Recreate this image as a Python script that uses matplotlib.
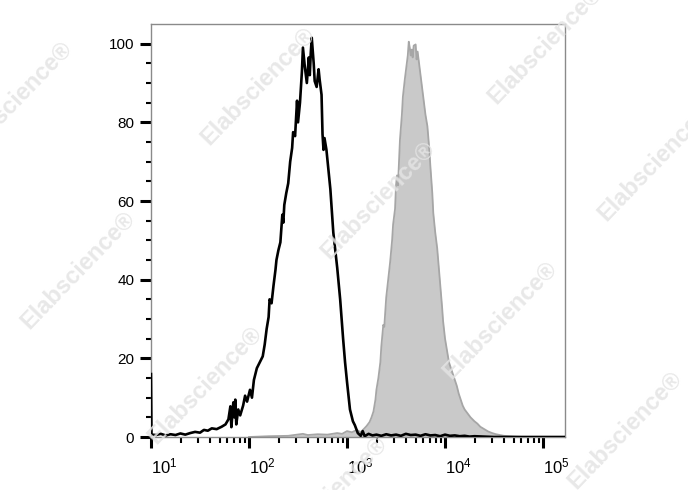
import numpy as np
import matplotlib
matplotlib.use("Agg")
import matplotlib.pyplot as plt
from matplotlib.ticker import FixedLocator, LogLocator, NullFormatter

plt.rcParams['font.family'] = ['Liberation Sans', 'DejaVu Sans']
plt.rcParams['mathtext.fontset'] = 'custom'
plt.rcParams['mathtext.rm'] = 'Liberation Sans'
plt.rcParams['mathtext.it'] = 'Liberation Sans'

# Unstained / isotype control (black line), x given as decades (log10)
black_log = [1.00, 1.005, 1.05, 1.10, 1.15, 1.20, 1.25, 1.30, 1.35, 1.40, 1.45, 1.50,
             1.54, 1.58, 1.62, 1.67, 1.72, 1.76, 1.79, 1.81, 1.82, 1.84, 1.85, 1.86,
             1.87, 1.89, 1.91, 1.94, 1.96, 1.98, 2.01, 2.03, 2.05, 2.08, 2.11, 2.14,
             2.16, 2.18, 2.20, 2.21, 2.23, 2.25, 2.27, 2.28, 2.30, 2.32, 2.34, 2.35,
             2.36, 2.38, 2.40, 2.42, 2.44, 2.45, 2.47, 2.49, 2.50, 2.52, 2.54, 2.55,
             2.57, 2.59, 2.61, 2.62, 2.63, 2.64, 2.66, 2.67, 2.69, 2.71, 2.72, 2.74,
             2.75, 2.76, 2.77, 2.79, 2.81, 2.83, 2.86, 2.90, 2.93, 2.96, 2.98, 3.00,
             3.03, 3.06, 3.08, 3.11, 3.14, 3.16, 3.18, 3.22, 3.26, 3.30, 3.35, 3.40,
             3.45, 3.50, 3.55, 3.60, 3.65, 3.70, 3.75, 3.80, 3.85, 3.90, 3.95, 4.00,
             4.05, 4.10, 4.15, 4.20, 4.25, 4.30, 4.50, 5.22]
black_y = [16.0, 0.6, 0.5, 0.8, 0.4, 0.7, 0.5, 0.9, 0.6, 1.0, 1.3, 1.1,
           1.8, 1.6, 2.2, 2.0, 2.6, 3.2, 4.5, 7.8, 2.5, 8.8, 5.0, 9.5,
           3.2, 7.0, 5.5, 8.0, 10.5, 9.0, 12.0, 10.0, 14.5, 17.5, 19.0, 20.5,
           23.5, 27.5, 30.5, 35.0, 34.0, 38.5, 42.5, 45.0, 47.5, 49.5, 56.5, 54.5,
           59.0, 62.0, 64.5, 70.0, 73.5, 77.5, 76.5, 85.5, 80.0, 85.0, 93.0, 99.0,
           94.0, 90.0, 96.5, 92.0, 97.5, 101.5, 95.0, 90.5, 89.0, 93.5, 91.0, 87.0,
           77.0, 73.0, 76.0, 73.0, 68.0, 63.0, 52.0, 43.0, 35.0, 25.0, 19.0, 14.0,
           7.0, 4.0, 3.0, 1.0, 0.3, 1.5, 0.2, 0.8, 0.4, 0.6, 0.3, 0.7,
           0.4, 0.6, 0.3, 0.8, 0.5, 0.6, 0.3, 0.7, 0.4, 0.5, 0.2, 0.6,
           0.3, 0.4, 0.2, 0.3, 0.1, 0.2, 0.0, 0.0]

# Stained sample (grey filled)
gray_log = [2.00, 2.20, 2.40, 2.55, 2.60, 2.70, 2.80, 2.90, 2.95, 3.00, 3.05, 3.10,
            3.14, 3.17, 3.20, 3.23, 3.25, 3.27, 3.29, 3.30, 3.32, 3.34, 3.35, 3.37,
            3.38, 3.40, 3.42, 3.44, 3.46, 3.47, 3.49, 3.50, 3.51, 3.52, 3.54, 3.56,
            3.57, 3.59, 3.61, 3.62, 3.63, 3.64, 3.65, 3.66, 3.67, 3.68, 3.70, 3.71,
            3.72, 3.74, 3.76, 3.78, 3.80, 3.82, 3.84, 3.85, 3.87, 3.88, 3.90, 3.92,
            3.94, 3.95, 3.97, 3.98, 4.00, 4.02, 4.04, 4.06, 4.08, 4.10, 4.12, 4.14,
            4.16, 4.18, 4.20, 4.23, 4.26, 4.30, 4.33, 4.36, 4.40, 4.44, 4.48, 4.52,
            4.56, 4.60, 4.66, 4.72, 4.80]
gray_y = [0.0, 0.2, 0.3, 0.8, 0.5, 0.7, 0.6, 1.0, 0.8, 1.5, 1.2, 1.8,
          1.2, 2.0, 2.8, 3.8, 5.0, 6.5, 9.5, 12.0, 15.0, 19.0, 23.0, 28.5,
          28.0, 35.5, 40.0, 44.5, 50.0, 54.0, 58.0, 64.0, 66.5, 64.0, 75.5, 82.0,
          86.5, 91.0, 95.0, 97.0, 100.5, 99.0, 97.0, 98.5, 96.5, 99.5, 99.8, 96.0,
          98.0, 94.0, 90.0, 86.0, 82.0, 79.0, 73.0, 69.0, 62.0, 57.0, 52.0, 48.0,
          42.0, 39.0, 33.0, 29.5, 25.0, 22.0, 19.0, 17.5, 16.0, 14.5, 13.0, 11.0,
          9.5, 8.0, 7.0, 6.0, 5.0, 4.0, 3.4, 2.6, 2.0, 1.4, 1.0, 0.7,
          0.5, 0.3, 0.2, 0.1, 0.0]

y_ticks = [0, 20, 40, 60, 80, 100]
x_ticks = [1e1, 1e2, 1e3, 1e4, 1e5]
x_labels = ['$10^{1}$', '$10^{2}$', '$10^{3}$', '$10^{4}$', '$10^{5}$']

watermark = "Elabscience\u00ae"
wm_pos = [(258, 86), (378, 200), (500, 320), (545, 45), (655, 162), (78, 270),
          (205, 385), (625, 430), (15, 100), (330, 495)]

fig = plt.figure(figsize=(6.88, 4.90), dpi=100)
ax = fig.add_axes([151 / 688, 1 - 437 / 490, 414 / 688, 413 / 490])

bx = [10 ** v for v in black_log]
gx = [10 ** v for v in gray_log]

ax.fill_between(gx, gray_y, 0, color='#c9c9c9', lw=0, zorder=1)
ax.plot(gx, gray_y, color='#a6a6a6', lw=1.3, zorder=2)

# watermark lies over the grey fill
for (px, py) in wm_pos:
    fig.text(px / 688, 1 - py / 490, watermark, rotation=46, ha='center', va='center',
             rotation_mode='anchor', fontsize=17, fontweight='bold', color='#e4e4e4',
             alpha=0.85, zorder=3)

ax.plot(bx, black_y, color='black', lw=1.9, zorder=4)

ax.set_xscale('log')
ax.set_xlim(10, 10 ** 5.224)
ax.set_ylim(0, 105)

ax.xaxis.set_major_locator(FixedLocator(x_ticks))
ax.set_xticks(x_ticks)
ax.set_xticklabels(x_labels, ha='left')
ax.xaxis.set_minor_locator(LogLocator(base=10, subs=np.arange(2, 10)))
ax.xaxis.set_minor_formatter(NullFormatter())

ax.set_yticks(y_ticks)
ax.set_yticks(np.arange(0, 101, 5), minor=True)

ax.tick_params(axis='both', which='major', direction='out', length=8, width=2.2,
               color='black', labelsize=11)
ax.tick_params(axis='x', which='major', labelsize=12, pad=6)
ax.tick_params(axis='y', which='minor', direction='out', length=3.5, width=1.5, color='black')
ax.tick_params(axis='x', which='minor', direction='out', length=4.5, width=1.5, color='black')
ax.tick_params(axis='y', which='major', pad=4)

for side in ['top', 'right', 'left', 'bottom']:
    ax.spines[side].set_color('#8a8a8a')
    ax.spines[side].set_linewidth(1.0)

fig.savefig('out.png', dpi=100)
